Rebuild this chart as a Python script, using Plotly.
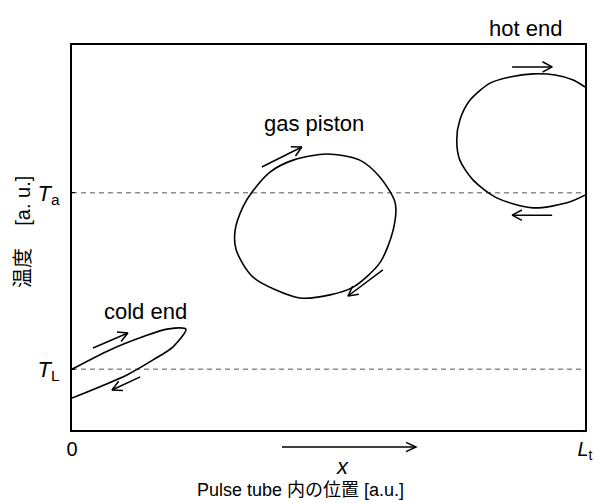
import numpy as np
import plotly.graph_objects as go

# ---- data (x: position / L_t, T: temperature in a.u.) ----
T_A = 0.616
T_LOW = 0.158

cold_x = [0.000, 0.074, 0.138, 0.185, 0.222, 0.197, 0.158, 0.107, 0.000]
cold_t = [0.158, 0.208, 0.242, 0.262, 0.262, 0.216, 0.182, 0.143, 0.083]

gas_x = [0.497, 0.561, 0.600, 0.630, 0.626, 0.600, 0.548, 0.503, 0.444, 0.353,
         0.320, 0.318, 0.333, 0.351, 0.386, 0.431, 0.497]
gas_t = [0.717, 0.701, 0.657, 0.590, 0.519, 0.434, 0.371, 0.351, 0.343, 0.397,
         0.468, 0.519, 0.579, 0.618, 0.670, 0.701, 0.717]

hot_x = [1.000, 0.977, 0.942, 0.899, 0.854, 0.815, 0.776, 0.756, 0.750, 0.756,
         0.782, 0.828, 0.899, 0.965, 1.000]
hot_t = [0.891, 0.909, 0.922, 0.925, 0.917, 0.901, 0.857, 0.805, 0.753, 0.701,
         0.649, 0.603, 0.577, 0.590, 0.610]

# direction arrows: (x_start, T_start, x_end, T_end)
arrow_x0 = [0.041, 0.133, 0.370, 0.606, 0.858, 0.936]
arrow_t0 = [0.213, 0.138, 0.683, 0.416, 0.943, 0.558]
arrow_x1 = [0.109, 0.078, 0.448, 0.538, 0.936, 0.858]
arrow_t1 = [0.252, 0.104, 0.735, 0.348, 0.943, 0.558]

x_ticks = [0, 1]
x_ticktext = ["0", "<i>L</i><sub>t</sub>"]
t_ticks = [T_LOW, T_A]
t_ticktext = ["<i>T</i><sub>L</sub>", "<i>T</i><sub>a</sub>"]

# ---- layout geometry ----
W, H = 594, 503
ML, MR, MT, MB = 72, 9, 45, 73
SX = W - ML - MR
SY = H - MT - MB

FONT = "Liberation Sans, Arial, Noto Sans CJK JP, sans-serif"


def arrow_path(x0, y0, x1, y1, L=10, ang=28):
    dx = (x0 - x1) * SX
    dy = (y0 - y1) * SY
    n = np.hypot(dx, dy)
    ux, uy = dx / n, dy / n
    wings = []
    for s in (1, -1):
        a = np.radians(ang * s)
        rx = ux * np.cos(a) - uy * np.sin(a)
        ry = ux * np.sin(a) + uy * np.cos(a)
        wings.append((x1 + rx * L / SX, y1 + ry * L / SY))
    xs = [x0, x1, None, wings[0][0], x1, wings[1][0]]
    ys = [y0, y1, None, wings[0][1], y1, wings[1][1]]
    return xs, ys


def px(xp):
    return (xp - ML) / SX


def py(yp):
    return (H - MB - yp) / SY


fig = go.Figure()

# dashed reference temperatures
for tv in (T_A, T_LOW):
    fig.add_trace(go.Scatter(x=[0, 1], y=[tv, tv], mode="lines",
                             line=dict(color="#555555", width=1, dash="5px,4px"),
                             hoverinfo="skip", showlegend=False))

for xs, ts in ((cold_x, cold_t), (gas_x, gas_t), (hot_x, hot_t)):
    fig.add_trace(go.Scatter(x=xs, y=ts, mode="lines",
                             line=dict(color="black", width=1.6, shape="spline", smoothing=0.8),
                             hoverinfo="skip", showlegend=False))

for x0, y0, x1, y1 in zip(arrow_x0, arrow_t0, arrow_x1, arrow_t1):
    ax_, ay_ = arrow_path(x0, y0, x1, y1, L=11)
    fig.add_trace(go.Scatter(x=ax_, y=ay_, mode="lines",
                             line=dict(color="black", width=1.5),
                             hoverinfo="skip", showlegend=False))

# big x-direction arrow below the axis (paper coordinates)
bx0, bx1, by = px(282), px(416), py(447)
hx, hy = arrow_path(bx0, by, bx1, by, L=11, ang=25)
fig.add_shape(type="line", xref="paper", yref="paper", x0=bx0, y0=by, x1=bx1, y1=by,
              line=dict(color="black", width=1.5))
fig.add_shape(type="path", xref="paper", yref="paper",
              path=f"M{hx[3]},{hy[3]} L{hx[4]},{hy[4]} L{hx[5]},{hy[5]}",
              line=dict(color="black", width=1.5))

ann = dict(showarrow=False, xref="paper", yref="paper", xanchor="center", yanchor="middle",
           font=dict(family=FONT, size=22, color="black"))
fig.add_annotation(x=px(525), y=py(29), text="hot end", **ann)
fig.add_annotation(x=px(314), y=py(124), text="gas piston", **ann)
fig.add_annotation(x=px(145), y=py(311), text="cold end", **ann)
fig.add_annotation(x=px(342), y=py(467), text="<i>x</i>", **ann)
fig.add_annotation(x=px(300), y=py(490), text="Pulse tube 内の位置 [a.u.]", showarrow=False,
                   xref="paper", yref="paper", xanchor="center", yanchor="middle",
                   font=dict(family=FONT, size=18, color="black"))
fig.add_annotation(x=px(23), y=py(232), text="温度\u00a0\u00a0\u00a0\u00a0[a. u.]",
                   textangle=-90, showarrow=False, xref="paper", yref="paper",
                   xanchor="center", yanchor="middle",
                   font=dict(family=FONT, size=20, color="black"))

fig.update_layout(
    width=W, height=H,
    margin=dict(l=ML, r=MR, t=MT, b=MB, autoexpand=False),
    paper_bgcolor="white", plot_bgcolor="white",
    showlegend=False,
    xaxis=dict(range=[0, 1], tickvals=x_ticks, ticktext=x_ticktext, showgrid=False,
               zeroline=False, showline=True, mirror=True, linecolor="black", linewidth=2,
               ticks="", automargin=False,
               tickfont=dict(family=FONT, size=20, color="black")),
    yaxis=dict(range=[0, 1], tickvals=t_ticks, ticktext=t_ticktext, showgrid=False,
               zeroline=False, showline=True, mirror=True, linecolor="black", linewidth=2,
               ticks="inside", ticklen=3, tickcolor="black", automargin=False,
               ticklabelstandoff=6,
               tickfont=dict(family=FONT, size=22, color="black")),
)

fig.write_html("out.html")
